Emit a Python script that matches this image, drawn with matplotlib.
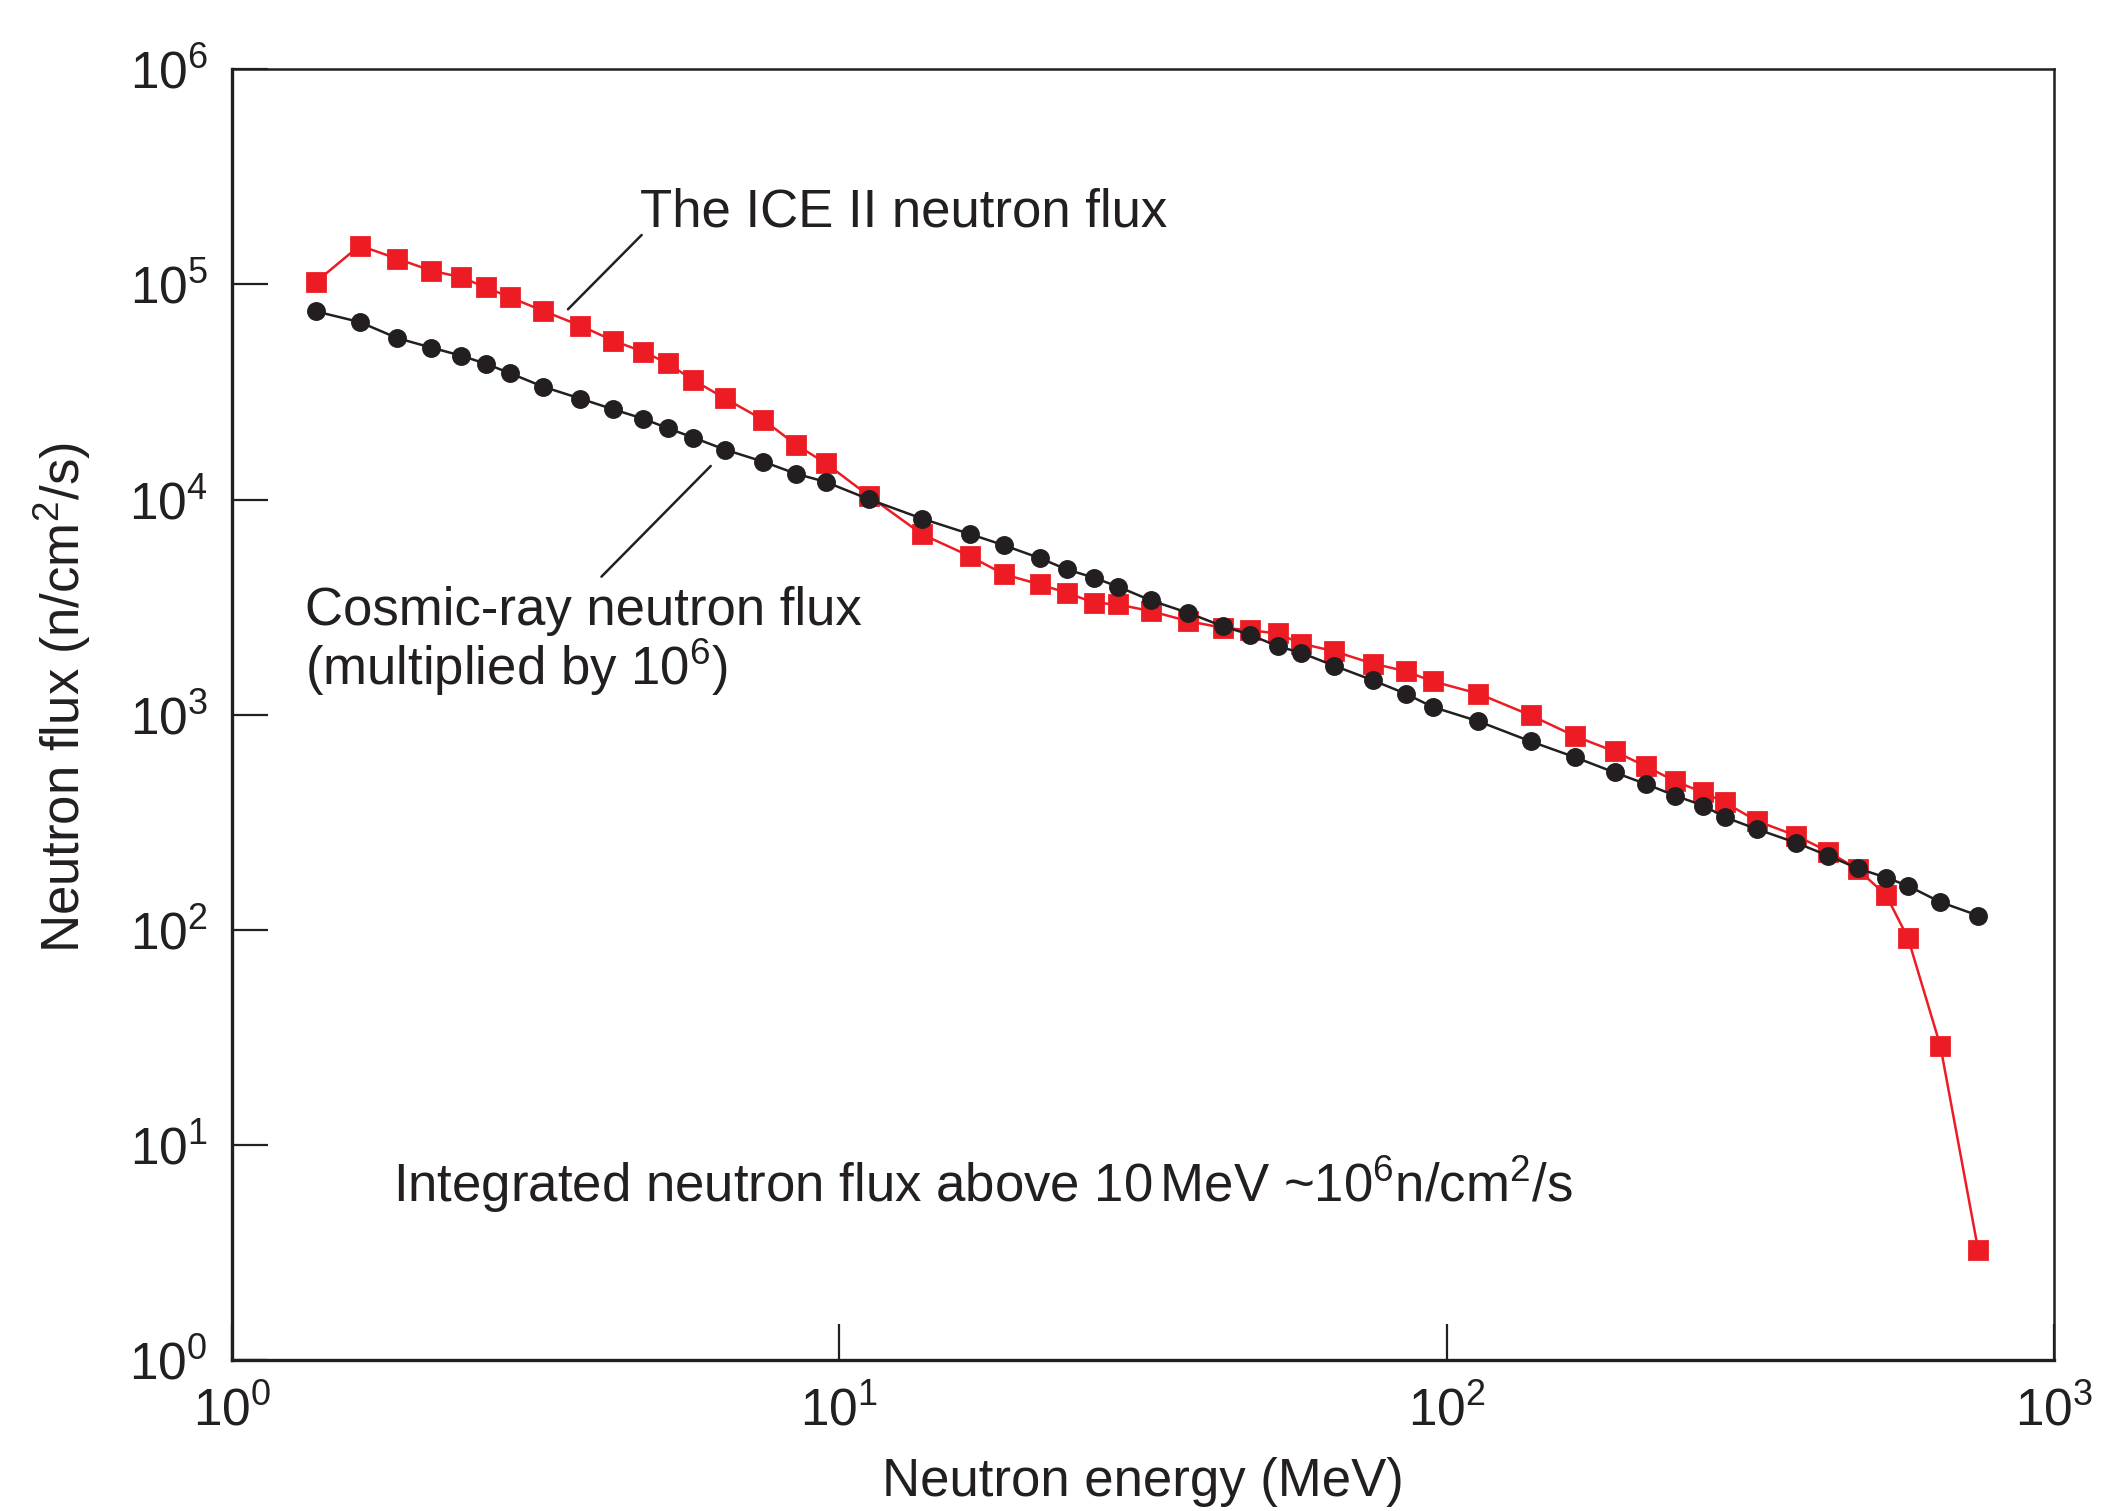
import numpy as np
import matplotlib
matplotlib.use("Agg")
import matplotlib.pyplot as plt
from matplotlib import ticker

plt.rcParams['font.family'] = ['Liberation Sans', 'DejaVu Sans']
plt.rcParams['mathtext.fontset'] = 'custom'
plt.rcParams['mathtext.rm'] = 'Liberation Sans'
plt.rcParams['mathtext.it'] = 'Liberation Sans:italic'
plt.rcParams['mathtext.bf'] = 'Liberation Sans:bold'
plt.rcParams['mathtext.default'] = 'regular'

# neutron energy bins (MeV), shared by both spectra
energy = [1.375, 1.625, 1.875, 2.13, 2.385, 2.62, 2.87, 3.25, 3.75, 4.25,
          4.76, 5.22, 5.75, 6.49, 7.5, 8.5, 9.5, 11.2, 13.7, 16.4,
          18.7, 21.4, 23.7, 26.3, 28.8, 32.6, 37.5, 42.8, 47.4, 52.7,
          57.6, 65.2, 75.6, 85.6, 94.8, 112.8, 137.6, 163, 189, 213,
          238, 264.6, 287, 324, 376, 425, 475, 529, 575, 650, 750]

# ICE II beam spectrum (n/cm2/s)
ice_flux = [102470, 151700, 131600, 116000, 108100, 97000, 87230, 75550, 64340, 54760,
            48670, 43010, 35940, 29510, 23490, 17960, 14770, 10400, 6892, 5461,
            4491, 4032, 3688, 3316, 3254, 3029, 2724, 2535, 2470, 2386,
            2142, 1974, 1729, 1593, 1430, 1253, 993, 793, 675, 575,
            490, 435, 391, 321, 274, 231, 191, 145, 91.3, 28.8, 3.25]

# cosmic-ray spectrum, multiplied by 1e6
cosmic_flux = [75000, 66890, 56280, 50900, 46690, 42820, 38730, 33540, 29470, 26270,
               23760, 21490, 19430, 17070, 15000, 13180, 12090, 10030, 8153, 6922,
               6125, 5343, 4736, 4331, 3934, 3398, 2978, 2578, 2358, 2082,
               1940, 1692, 1445, 1253, 1087, 932, 751, 633, 539, 476,
               420, 378, 334, 294, 254, 221, 193, 175, 160, 134.5, 116.5]

red = '#ED1C24'
blk = '#231F20'

fig = plt.figure(figsize=(10.51, 7.555), dpi=200)
ax = fig.add_axes([0.1102, 0.0999, 0.8670, 0.8542])

ax.plot(energy, ice_flux, '-s', color=red, lw=0.9, ms=6.4, mec=red, zorder=3)
ax.plot(energy, cosmic_flux, '-o', color=blk, lw=0.9, ms=5.8, mec=blk, zorder=4)

ax.set_xscale('log')
ax.set_yscale('log')
ax.set_xlim(1, 1000)
ax.set_ylim(1, 1e6)
ax.xaxis.set_major_locator(ticker.LogLocator(base=10, numticks=10))
ax.yaxis.set_major_locator(ticker.LogLocator(base=10, numticks=10))
ax.xaxis.set_minor_locator(ticker.NullLocator())
ax.yaxis.set_minor_locator(ticker.NullLocator())

ax.tick_params(axis='both', direction='in', length=13, width=0.8, colors=blk,
               labelsize=18.5)
ax.tick_params(axis='y', pad=8.6)
ax.tick_params(axis='x', pad=9.6)
for side in ['left', 'bottom']:
    ax.spines[side].set_linewidth(1.2)
for side in ['top', 'right']:
    ax.spines[side].set_linewidth(0.9)
for s in ax.spines.values():
    s.set_color(blk)

ax.set_xlabel('Neutron energy (MeV)', fontsize=19, color=blk)
ax.xaxis.set_label_coords(0.5, -0.1054)
ax.xaxis.label.set_verticalalignment('baseline')
ax.set_ylabel('Neutron flux (n/cm$^{2}$/s)', fontsize=19, color=blk)
ax.yaxis.set_label_coords(-0.083, 0.513)
ax.yaxis.label.set_verticalalignment('baseline')

ax.text(0.2241, 0.8786, 'The ICE II neutron flux', transform=ax.transAxes,
        fontsize=19, color=blk, va='baseline')
ax.text(0.0402, 0.5695, 'Cosmic-ray neutron flux', transform=ax.transAxes,
        fontsize=19, color=blk, va='baseline')
ax.text(0.0402, 0.5230, '(multiplied by 10$^{6}$)', transform=ax.transAxes,
        fontsize=19, color=blk, va='baseline')
ax.text(0.0884, 0.1226, 'Integrated neutron flux above 10$\\,$MeV ~10$^{6}$n/cm$^{2}$/s',
        transform=ax.transAxes, fontsize=19, color=blk, va='baseline')

# leader lines
ax.annotate('', xy=(3.578, 76670), xytext=(4.731, 169900),
            arrowprops=dict(arrowstyle='-', color=blk, lw=0.9, shrinkA=0, shrinkB=0))
ax.annotate('', xy=(6.147, 14330), xytext=(4.062, 4381),
            arrowprops=dict(arrowstyle='-', color=blk, lw=0.9, shrinkA=0, shrinkB=0))

fig.savefig('out.png', dpi=200)
